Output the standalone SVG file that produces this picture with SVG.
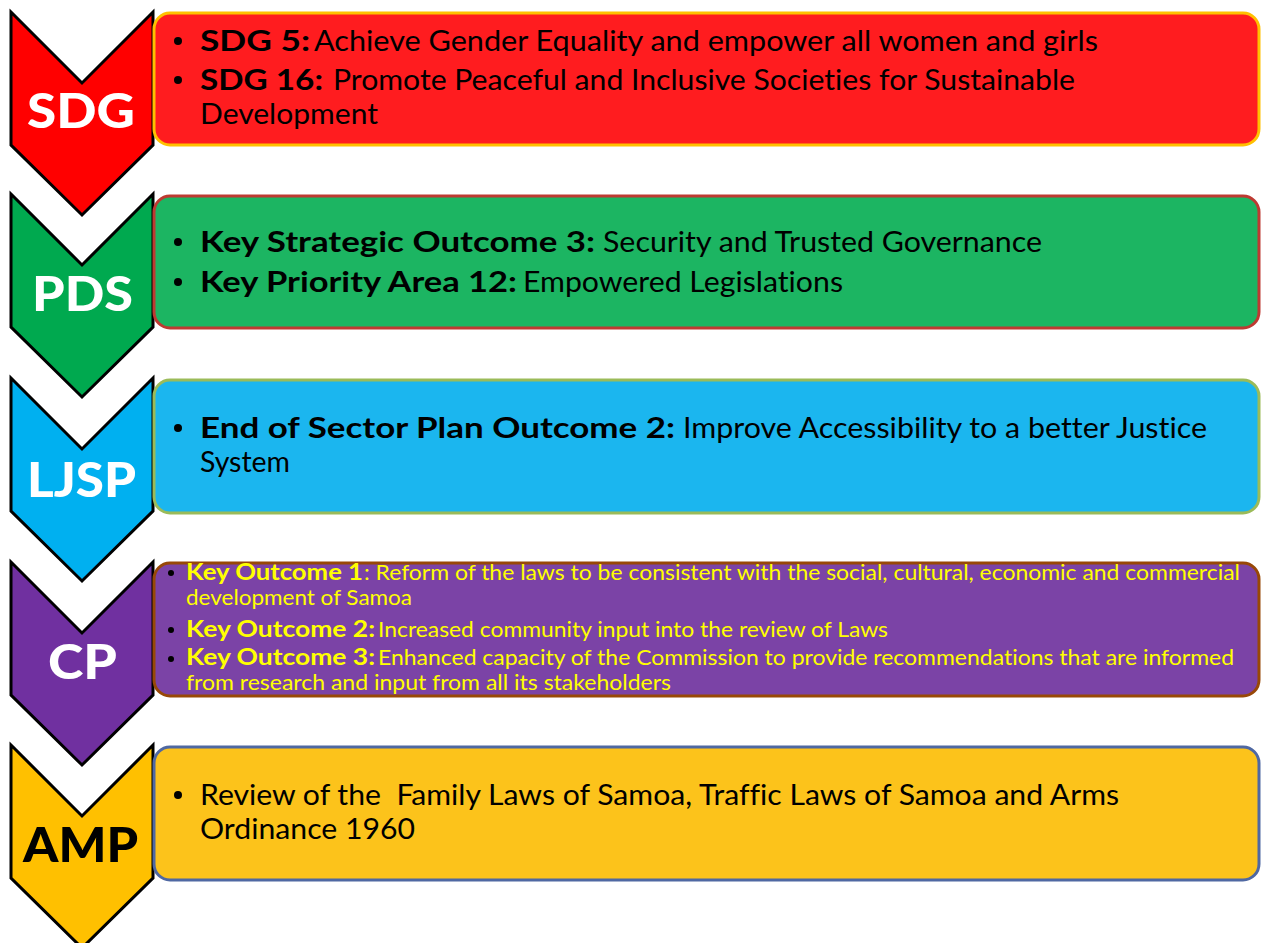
<svg xmlns="http://www.w3.org/2000/svg" width="1261" height="943" viewBox="0 0 1261 943">
<style>
text{font-variant-ligatures:none}
.chev{stroke:#000;stroke-width:3;stroke-linejoin:miter}
.box{stroke-width:3}
.lbl{font-family:Lato,"Open Sans","DejaVu Sans",sans-serif;font-weight:900;font-size:47px}
.t{font-family:Lato,"Open Sans","DejaVu Sans",sans-serif;font-size:29px;fill:#000}
.b{font-weight:700}
.s{font-family:Lato,"Open Sans","DejaVu Sans",sans-serif;font-size:22px;fill:#FFFF00}
</style>
<rect width="1261" height="943" fill="#fff"/>

<g id="sdg">
<path class="chev" fill="#FF0000" d="M11,12 L82,83 L153,12 L153,145 L82,215 L11,145 Z"/>
<rect class="box" x="154" y="13" width="1105" height="132" rx="16" fill="#FF1C1F" stroke="#FFC000"/>
<text class="lbl" x="27" y="128" fill="#fff" textLength="108" lengthAdjust="spacingAndGlyphs">SDG</text>
<circle cx="178" cy="41" r="4"/>
<text class="t b" x="200" y="51" textLength="110" lengthAdjust="spacingAndGlyphs">SDG 5:</text>
<text class="t" x="314" y="51" textLength="784" lengthAdjust="spacingAndGlyphs">Achieve Gender Equality and empower all women and girls</text>
<circle cx="178" cy="80" r="4"/>
<text class="t b" x="200" y="90" textLength="123" lengthAdjust="spacingAndGlyphs">SDG 16:</text>
<text class="t" x="333" y="90" textLength="742" lengthAdjust="spacingAndGlyphs">Promote Peaceful and Inclusive Societies for Sustainable</text>
<text class="t" x="200" y="124" textLength="178" lengthAdjust="spacingAndGlyphs">Development</text>
</g>

<g id="pds">
<path class="chev" fill="#00A94F" d="M11,194 L82,265 L153,194 L153,327 L82,397 L11,327 Z"/>
<rect class="box" x="154" y="196" width="1105" height="132" rx="16" fill="#1CB562" stroke="#BE3A32"/>
<text class="lbl" x="32" y="311" fill="#fff" textLength="101" lengthAdjust="spacingAndGlyphs">PDS</text>
<circle cx="178" cy="242" r="4"/>
<text class="t b" x="200" y="252" textLength="395" lengthAdjust="spacingAndGlyphs">Key Strategic Outcome 3:</text>
<text class="t" x="603" y="252" textLength="439" lengthAdjust="spacingAndGlyphs">Security and Trusted Governance</text>
<circle cx="178" cy="282" r="4"/>
<text class="t b" x="200" y="292" textLength="317" lengthAdjust="spacingAndGlyphs">Key Priority Area 12:</text>
<text class="t" x="523" y="292" textLength="320" lengthAdjust="spacingAndGlyphs">Empowered Legislations</text>
</g>

<g id="ljsp">
<path class="chev" fill="#00B0F0" d="M11,378 L82,449 L153,378 L153,511 L82,581 L11,511 Z"/>
<rect class="box" x="154" y="380" width="1105" height="133" rx="16" fill="#1BB6EF" stroke="#9BBB59"/>
<text class="lbl" x="27" y="497" fill="#fff" textLength="109" lengthAdjust="spacingAndGlyphs">LJSP</text>
<circle cx="178" cy="428" r="4"/>
<text class="t b" x="200" y="438" textLength="475" lengthAdjust="spacingAndGlyphs">End of Sector Plan Outcome 2:</text>
<text class="t" x="683" y="438" textLength="524" lengthAdjust="spacingAndGlyphs">Improve Accessibility to a better Justice</text>
<text class="t" x="200" y="472" textLength="90" lengthAdjust="spacingAndGlyphs">System</text>
</g>

<g id="cp">
<path class="chev" fill="#7030A0" d="M11,562 L82,633 L153,562 L153,695 L82,765 L11,695 Z"/>
<rect class="box" x="154" y="563" width="1105" height="133" rx="16" fill="#7B43A6" stroke="#984807"/>
<text class="lbl" x="48" y="679" fill="#fff" textLength="69" lengthAdjust="spacingAndGlyphs">CP</text>
<circle cx="171" cy="573" r="3"/>
<text class="s b" x="186" y="580" textLength="177" lengthAdjust="spacingAndGlyphs">Key Outcome 1</text>
<text class="s" x="364" y="580" textLength="876" lengthAdjust="spacingAndGlyphs">: Reform of the laws to be consistent with the social, cultural, economic and commercial</text>
<text class="s" x="186" y="605" textLength="226" lengthAdjust="spacingAndGlyphs">development of Samoa</text>
<circle cx="171" cy="630" r="3"/>
<text class="s b" x="186" y="637" textLength="189" lengthAdjust="spacingAndGlyphs">Key Outcome 2:</text>
<text class="s" x="378" y="637" textLength="510" lengthAdjust="spacingAndGlyphs">Increased community input into the review of Laws</text>
<circle cx="171" cy="659" r="3"/>
<text class="s b" x="186" y="665" textLength="189" lengthAdjust="spacingAndGlyphs">Key Outcome 3:</text>
<text class="s" x="378" y="665" textLength="856" lengthAdjust="spacingAndGlyphs">Enhanced capacity of the Commission to provide recommendations that are informed</text>
<text class="s" x="186" y="690" textLength="485" lengthAdjust="spacingAndGlyphs">from research and input from all its stakeholders</text>
</g>

<g id="amp">
<path class="chev" fill="#FFC000" d="M11,745 L82,816 L153,745 L153,878 L82,948 L11,878 Z"/>
<rect class="box" x="154" y="747" width="1105" height="133" rx="16" fill="#FCC31B" stroke="#4F68A2"/>
<text class="lbl" x="23" y="862" fill="#000" textLength="115" lengthAdjust="spacingAndGlyphs">AMP</text>
<circle cx="178" cy="795" r="4"/>
<text class="t" x="200" y="805" textLength="919" lengthAdjust="spacingAndGlyphs" xml:space="preserve">Review of the  Family Laws of Samoa, Traffic Laws of Samoa and Arms</text>
<text class="t" x="200" y="839" textLength="215" lengthAdjust="spacingAndGlyphs">Ordinance 1960</text>
</g>

<g id="connectors"></g>
</svg>
